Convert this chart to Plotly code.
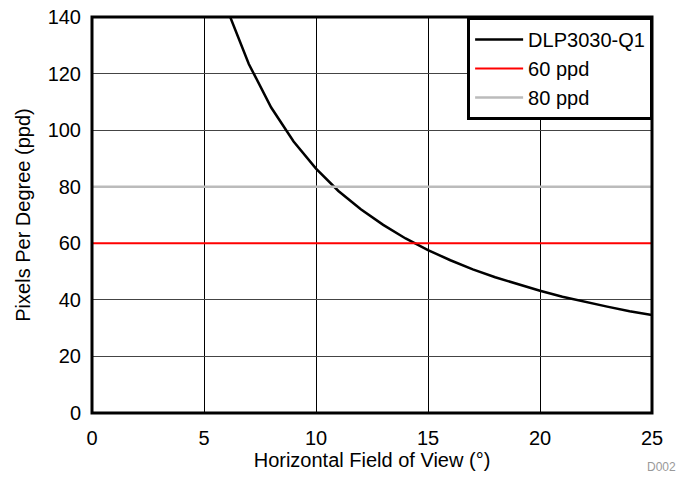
import plotly.graph_objects as go

fov = [6.17, 7, 8, 9, 10, 11, 12, 13, 14, 15, 16, 17, 18, 19, 20, 21, 22, 23, 24, 25]
ppd = [140, 123.4, 108, 96, 86.4, 78.5, 72, 66.5, 61.7, 57.6, 54, 50.8, 48, 45.5, 43.2, 41.1, 39.3, 37.6, 36, 34.6]
ref_x = [0, 25]
ppd60 = [60, 60]
ppd80 = [80, 80]

fig = go.Figure()
fig.add_trace(go.Scatter(x=fov, y=ppd, mode="lines", name="DLP3030-Q1",
                         line=dict(color="black", width=2.5)))
fig.add_trace(go.Scatter(x=ref_x, y=ppd60, mode="lines", name="60 ppd",
                         line=dict(color="#ff0000", width=2)))
fig.add_trace(go.Scatter(x=ref_x, y=ppd80, mode="lines", name="80 ppd",
                         line=dict(color="#bbbbbb", width=2.5)))

font = "Liberation Sans, Arial, Helvetica, sans-serif"
fig.update_layout(
    width=685, height=477,
    margin=dict(l=92, r=33, t=17, b=64, autoexpand=False),
    paper_bgcolor="white", plot_bgcolor="white",
    font=dict(family=font, size=20, color="black"),
    showlegend=True,
    legend=dict(x=1.002, y=1.0, xanchor="right", yanchor="top",
                bgcolor="white", bordercolor="black", borderwidth=3,
                font=dict(family=font, size=20), tracegroupgap=0,
                itemwidth=48),
    xaxis=dict(range=[0, 25], tickvals=[0, 5, 10, 15, 20, 25],
               showgrid=True, gridcolor="black", gridwidth=1,
               zeroline=False, showline=False,
               ticks="outside", ticklen=7, tickcolor="rgba(0,0,0,0)",
               automargin=False, ticklabeloverflow="allow",
               title=dict(text="Horizontal Field of View (°)", standoff=0,
                          font=dict(family=font, size=20)),
               tickfont=dict(family=font, size=20)),
    yaxis=dict(range=[0, 140], tickvals=[0, 20, 40, 60, 80, 100, 120, 140],
               showgrid=True, gridcolor="#444444", gridwidth=1,
               zeroline=False, showline=False,
               ticks="outside", ticklen=6, tickcolor="rgba(0,0,0,0)",
               automargin=False, ticklabeloverflow="allow",
               title=dict(text="Pixels Per Degree (ppd)", standoff=11,
                          font=dict(family=font, size=20)),
               tickfont=dict(family=font, size=20)),
)
fig.add_shape(type="rect", xref="paper", yref="paper", x0=0, y0=0, x1=1, y1=1,
              line=dict(color="black", width=3), layer="above")
fig.add_annotation(text="D002", xref="paper", yref="paper", x=1.046, y=-0.158,
                   xanchor="right", yanchor="bottom", showarrow=False,
                   font=dict(family=font, size=12, color="#999999"))
fig.write_html("out.html", config={"displayModeBar": False},
               post_script="document.body.style.margin='0px';")
